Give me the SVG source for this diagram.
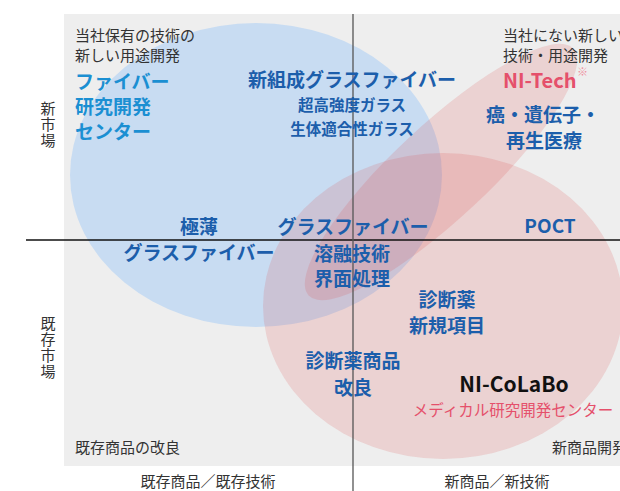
<svg xmlns="http://www.w3.org/2000/svg" width="620" height="491" viewBox="0 0 620 491">
<style>
text{font-family:"Noto Sans CJK JP","Noto Sans",sans-serif}
.lab{font-size:15px;fill:#333}
.vt{font-size:15px;fill:#333;writing-mode:vertical-rl;letter-spacing:1px}
.db{font-size:19px;font-weight:bold;fill:#1c5eab;text-anchor:middle}
.ds{font-size:15.5px;font-weight:bold;fill:#1c5eab;text-anchor:middle}
.lb{font-size:19px;font-weight:bold;fill:#1b8fd2}
.pk{fill:#e5506b}
.pkfill{fill:#dc4a4a;fill-opacity:0.17}
</style>
<rect x="0" y="0" width="620" height="491" fill="#ffffff"/>
<rect x="64" y="14" width="556" height="452" fill="#eeeeee"/>
<g id="shapes">
<ellipse id="blue-area" cx="256" cy="175" rx="186" ry="152" fill="#c8dcf2"/>
<ellipse id="pink-area" class="pkfill" cx="443" cy="306" rx="180" ry="153"/>
<ellipse id="pink-tilted" class="pkfill" cx="441" cy="172" rx="181" ry="47" transform="rotate(-43 441 172)"/>
</g>
<g id="axes">
<line x1="26" y1="240" x2="620" y2="240" stroke="#111" stroke-width="1.3"/>
<line x1="353" y1="14" x2="353" y2="491" stroke="#555" stroke-width="1.3"/>
</g>
<g id="axis-labels">
<text class="vt" x="48" y="101">新市場</text>
<text class="vt" x="48" y="316">既存市場</text>
<text class="lab" x="208" y="487" text-anchor="middle">既存商品／既存技術</text>
<text class="lab" x="497" y="487" text-anchor="middle">新商品／新技術</text>
</g>
<g id="quadrant-labels">
<text class="lab" x="75" y="41">当社保有の技術の</text>
<text class="lab" x="75" y="61">新しい用途開発</text>
<text class="lab" x="503" y="41">当社にない新しい</text>
<text class="lab" x="503" y="61">技術・用途開発</text>
<text class="lab" x="75" y="453">既存商品の改良</text>
<text class="lab" x="552" y="453">新商品開発</text>
</g>
<g id="fiber-center">
<text class="lb" x="75" y="89">ファイバー</text>
<text class="lb" x="75" y="114">研究開発</text>
<text class="lb" x="75" y="139">センター</text>
</g>
<g id="new-glass-fiber">
<text class="db" x="352" y="87">新組成グラスファイバー</text>
<text class="ds" x="352" y="111">超高強度ガラス</text>
<text class="ds" x="352" y="135">生体適合性ガラス</text>
</g>
<g id="ni-tech">
<text x="503" y="88" font-size="20px" font-weight="bold" class="pk">NI-Tech</text>
<text x="577" y="76" font-size="11px" fill="#ee90a0">※</text>
</g>
<g id="cancer-gene">
<text class="db" x="543" y="122">癌・遺伝子・</text>
<text class="db" x="544" y="148">再生医療</text>
</g>
<g id="thin-fiber">
<text class="db" x="199" y="234">極薄</text>
<text class="db" x="199" y="260">グラスファイバー</text>
</g>
<g id="glass-fiber-tech">
<text class="db" x="353" y="234">グラスファイバー</text>
<text class="db" x="352" y="261">溶融技術</text>
<text class="db" x="352" y="286">界面処理</text>
</g>
<g id="poct">
<text class="db" x="550" y="233" font-size="20px">POCT</text>
</g>
<g id="diag-new">
<text class="db" x="447" y="307">診断薬</text>
<text class="db" x="447" y="333">新規項目</text>
</g>
<g id="diag-improve">
<text class="db" x="353" y="368">診断薬商品</text>
<text class="db" x="353" y="395">改良</text>
</g>
<g id="ni-colabo">
<text x="514" y="392" font-size="21px" font-weight="bold" fill="#111" text-anchor="middle">NI-CoLaBo</text>
<text x="513" y="416" font-size="15.5px" class="pk" text-anchor="middle">メディカル研究開発センター</text>
</g>
</svg>
